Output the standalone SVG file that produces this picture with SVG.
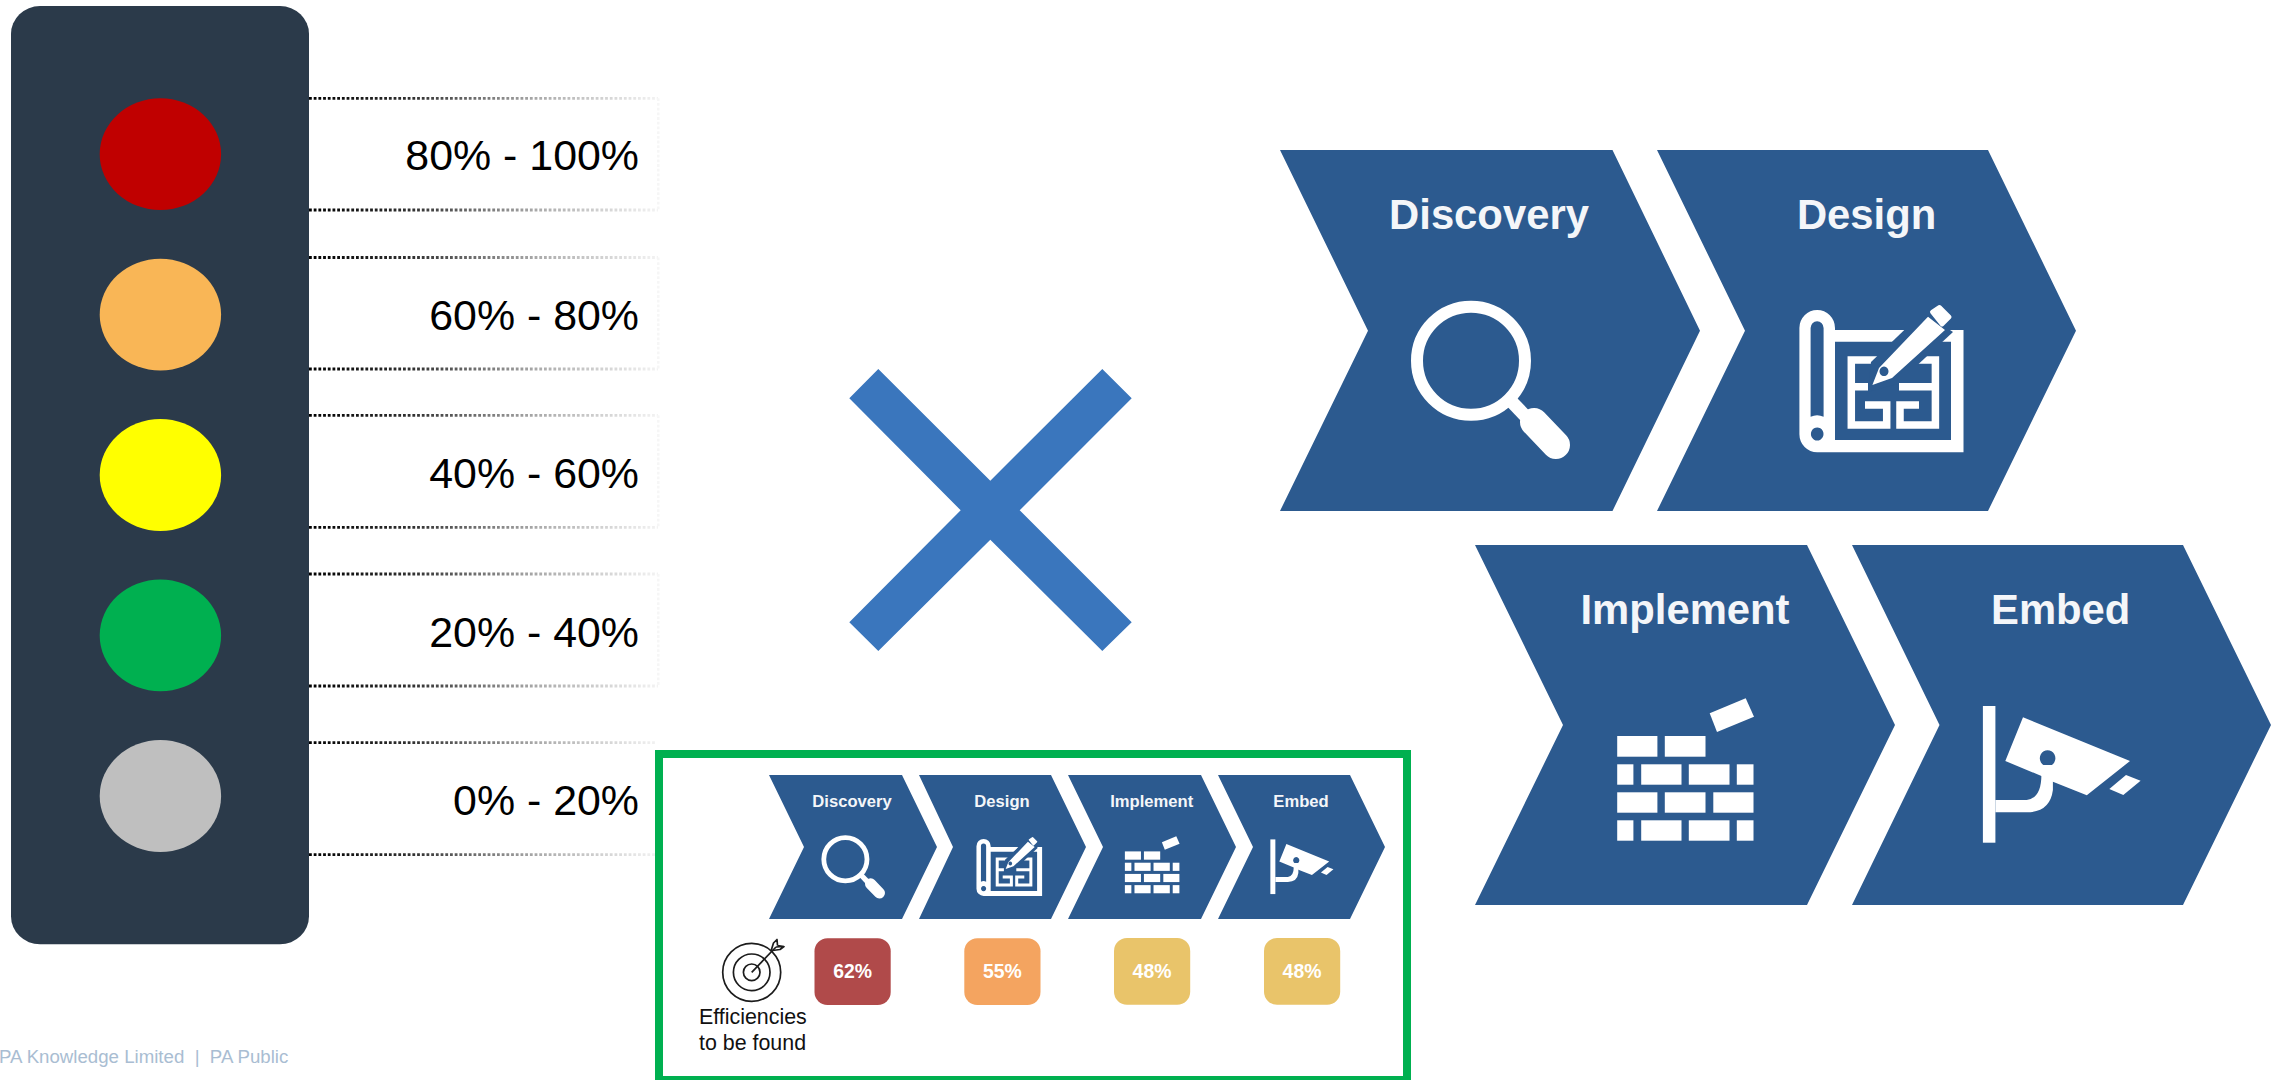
<svg xmlns="http://www.w3.org/2000/svg" width="2279" height="1080" viewBox="0 0 2279 1080">
<style>
text{font-family:"Liberation Sans",Arial,sans-serif}
.chev{fill:#2C5A8F}
.big{font-size:41.8px;font-weight:700;fill:#F4F6F9;text-anchor:middle}
.small{font-size:16.6px;font-weight:700;fill:#F4F6F9;text-anchor:middle}
.band{font-size:42.9px;fill:#000;text-anchor:end}
.dot{fill:none;stroke:url(#fade);stroke-width:2.8;stroke-dasharray:2.8 1.9}
.edge{fill:none;stroke:#F6F6F6;stroke-width:2.4;stroke-dasharray:2.8 1.9}
.pct{font-size:19.4px;font-weight:700;fill:#fff;text-anchor:middle}
.eff{font-size:21.4px;fill:#111}
.ring{fill:none;stroke:#1c1c1c;stroke-width:1.7}
</style>
<defs>
<linearGradient id="fade" gradientUnits="userSpaceOnUse" x1="309" y1="0" x2="660" y2="0">
<stop offset="0" stop-color="#000"/><stop offset="0.3" stop-color="#333"/><stop offset="0.65" stop-color="#aaa"/><stop offset="1" stop-color="#f4f4f4"/>
</linearGradient>
<g id="i-magnifier">
<circle cx="1471" cy="360.7" r="54" fill="none" stroke="#fff" stroke-width="12"/>
<path d="M1510 400L1530 421" fill="none" stroke="#fff" stroke-width="13"/>
<path d="M1534 422L1556 445" fill="none" stroke="#fff" stroke-width="28" stroke-linecap="round"/>
</g>
<g id="i-blueprint">
<path fill="#fff" fill-rule="evenodd" d="M1799.4 328a17.8 18 0 0 1 35.6 0V330H1905.5L1894 341.7H1835V440H1951V341.7H1937L1948.7 330H1963.5V452.3H1817.2a17.8 18 0 0 1-17.8-18ZM1810.6 328V416.7q6.5-3 13 0V328a6.5 6.8 0 0 0-13 0ZM1817.2 427.5a6.3 6.5 0 1 0 .01 0Z"/>
<path fill="none" stroke="#fff" stroke-width="7.5" d="M1878 360H1851.3V425H1886.7V405H1865M1851.3 386.7H1868M1918 360H1935.4V425H1900V405H1919M1935.4 386.7H1899"/>
<path fill="#2C5A8F" d="M1923 312L1953 332L1897 384L1868 392L1871 362Z"/>
<path fill="#fff" fill-rule="evenodd" d="M1928 316.7L1945 330L1892 378L1872.4 385L1879 368ZM1884 366.5a4.5 4.8 0 1 0 .01 0Z"/>
<path fill="#fff" stroke="#fff" stroke-width="4" stroke-linejoin="round" d="M1932 312L1939.5 307L1949.5 317L1942 324.5Z"/>
</g>
<g id="i-bricks" fill="#fff">
<rect x="1617.2" y="736" width="40.2" height="20.7"/><rect x="1664.8" y="736" width="40.7" height="20.7"/>
<rect x="1617.2" y="764.3" width="16.2" height="20.4"/><rect x="1641.2" y="764.3" width="40.3" height="20.4"/><rect x="1688.8" y="764.3" width="40.7" height="20.4"/><rect x="1736.8" y="764.3" width="16.7" height="20.4"/>
<rect x="1617.2" y="792.3" width="40.2" height="20.4"/><rect x="1664.8" y="792.3" width="40.7" height="20.4"/><rect x="1713.3" y="792.3" width="40.2" height="20.4"/>
<rect x="1617.2" y="820.3" width="16.2" height="20.4"/><rect x="1641.2" y="820.3" width="40.3" height="20.4"/><rect x="1688.8" y="820.3" width="40.7" height="20.4"/><rect x="1736.8" y="820.3" width="16.7" height="20.4"/>
<path d="M1709.7 713.3L1745.7 698.3L1754 716.7L1717 732Z"/>
</g>
<g id="i-camera" fill="#fff">
<rect x="1982.9" y="706" width="12.5" height="136.7"/>
<path d="M1995.4 800H2026.7Q2041.4 798 2041.4 775V765H2052.9V790Q2050 812.3 2026.7 812.3H1995.4Z"/>
<path fill-rule="evenodd" d="M2023 717.3L2130 761L2086.8 795.3L2052.9 781.7L2041.4 776L2005.3 761ZM2047.6 750.3a7.8 8 0 1 0 .01 0Z"/>
<path d="M2126 775L2140.6 780.7L2123.3 795L2109.3 789Z"/>
</g>
</defs>
<rect width="2279" height="1080" fill="#fff"/>
<g id="band-lines">
<path class="dot" d="M309 98.3H658M309 210H658M309 257.5H658M309 369H658M309 415.3H658M309 527.3H658M309 574H658M309 686H658M309 742.7H655M309 854.7H655"/>
<path class="edge" d="M658.3 98.3V210M658.3 257.5V369M658.3 415.3V527.3M658.3 574V686"/>
</g>
<g id="traffic-light">
<rect x="11" y="6" width="298" height="938.3" rx="29" ry="28" fill="#2B3A4A"/>
<ellipse cx="160.4" cy="154.2" rx="60.7" ry="55.9" fill="#C00000"/>
<ellipse cx="160.4" cy="314.6" rx="60.7" ry="55.9" fill="#F9B656"/>
<ellipse cx="160.4" cy="475" rx="60.7" ry="55.9" fill="#FFFF00"/>
<ellipse cx="160.4" cy="635.4" rx="60.7" ry="55.9" fill="#00B050"/>
<ellipse cx="160.4" cy="796" rx="60.7" ry="55.9" fill="#BFBFBF"/>
</g>
<g id="band-labels">
<text class="band" x="639" y="170">80% - 100%</text>
<text class="band" x="639" y="330">60% - 80%</text>
<text class="band" x="639" y="488.3">40% - 60%</text>
<text class="band" x="639" y="647.3">20% - 40%</text>
<text class="band" x="639" y="815">0% - 20%</text>
</g>
<g id="multiply">
<path fill="#3A76BD" d="M878.3 369L990.3 480.7L1102.3 369L1131.7 398.3L1019.7 510.3L1131.7 622.3L1102.3 651L990.3 539.7L878.3 651L849.3 622.3L960.7 510.3L849.3 398.3Z"/>
</g>
<g id="discovery">
<path class="chev" d="M1280 150H1612.5L1700 330.7L1612.5 511H1280L1368 330.7Z"/>
<text class="big" x="1489" y="229">Discovery</text>
<use href="#i-magnifier"/>
</g>
<g id="design">
<path class="chev" d="M1657 150H1988L2076 330.7L1988 511H1657L1745 330.7Z"/>
<text class="big" x="1866.6" y="229">Design</text>
<use href="#i-blueprint"/>
</g>
<g id="implement">
<path class="chev" d="M1475 545H1807L1895 725L1807 905H1475L1563 725Z"/>
<text class="big" x="1685" y="624">Implement</text>
<use href="#i-bricks"/>
</g>
<g id="embed">
<path class="chev" d="M1852 545H2183L2271 725L2183 905H1852L1939.5 725Z"/>
<text class="big" x="2060.7" y="624">Embed</text>
<use href="#i-camera"/>
</g>
<g id="summary-box">
<rect x="659" y="754" width="748" height="326" fill="#fff" stroke="#00B050" stroke-width="8"/>
</g>
<g id="small-discovery">
<path class="chev" d="M769 775H902L937 847L902 919H769L804 847Z"/>
<text class="small" x="852" y="806.6">Discovery</text>
<use href="#i-magnifier" transform="translate(257 715) scale(.4)"/>
</g>
<g id="small-design">
<path class="chev" d="M919 775H1051L1086 847L1051 919H919L953 847Z"/>
<text class="small" x="1002" y="806.6">Design</text>
<use href="#i-blueprint" transform="translate(256.7 715) scale(.4)"/>
</g>
<g id="small-implement">
<path class="chev" d="M1068 775H1201L1236 847L1201 919H1068L1103 847Z"/>
<text class="small" x="1151.7" y="806.6">Implement</text>
<use href="#i-bricks" transform="translate(478 557) scale(.4)"/>
</g>
<g id="small-embed">
<path class="chev" d="M1218 775H1350L1385 847L1350 919H1218L1253 847Z"/>
<text class="small" x="1301" y="806.6">Embed</text>
<use href="#i-camera" transform="translate(477.2 557) scale(.4)"/>
</g>
<g id="target">
<circle class="ring" cx="751.7" cy="972.3" r="29"/>
<circle class="ring" cx="751.7" cy="972.3" r="18.3"/>
<circle class="ring" cx="751.7" cy="972.3" r="8.3"/>
<path class="ring" d="M751.7 972.3L776 947"/>
<path class="ring" stroke-linejoin="round" d="M771 951L773.5 943L777 939.5L777.5 945.5M776 947L784 946.5L780 949.5L772.5 950.5M777.5 945.5L784 946.5"/>
<text class="eff" x="699" y="1023.5">Efficiencies</text>
<text class="eff" x="699" y="1049.5">to be found</text>
</g>
<g id="badge-discovery"><rect x="814.5" y="938.3" width="76.2" height="66.7" rx="13" fill="#B04A4A"/><text class="pct" x="852.7" y="978.3">62%</text></g>
<g id="badge-design"><rect x="964.3" y="938.3" width="76.2" height="66.7" rx="13" fill="#F4A460"/><text class="pct" x="1002.4" y="978.3">55%</text></g>
<g id="badge-implement"><rect x="1114" y="938" width="76.2" height="66.7" rx="13" fill="#E9C46A"/><text class="pct" x="1152" y="978">48%</text></g>
<g id="badge-embed"><rect x="1264" y="938" width="76.2" height="66.7" rx="13" fill="#E9C46A"/><text class="pct" x="1302" y="978">48%</text></g>
<g id="footer"><text x="-1" y="1063.3" font-size="18.67" fill="#A9BDD2">PA Knowledge Limited&#160; |&#160; PA Public</text></g>
</svg>
